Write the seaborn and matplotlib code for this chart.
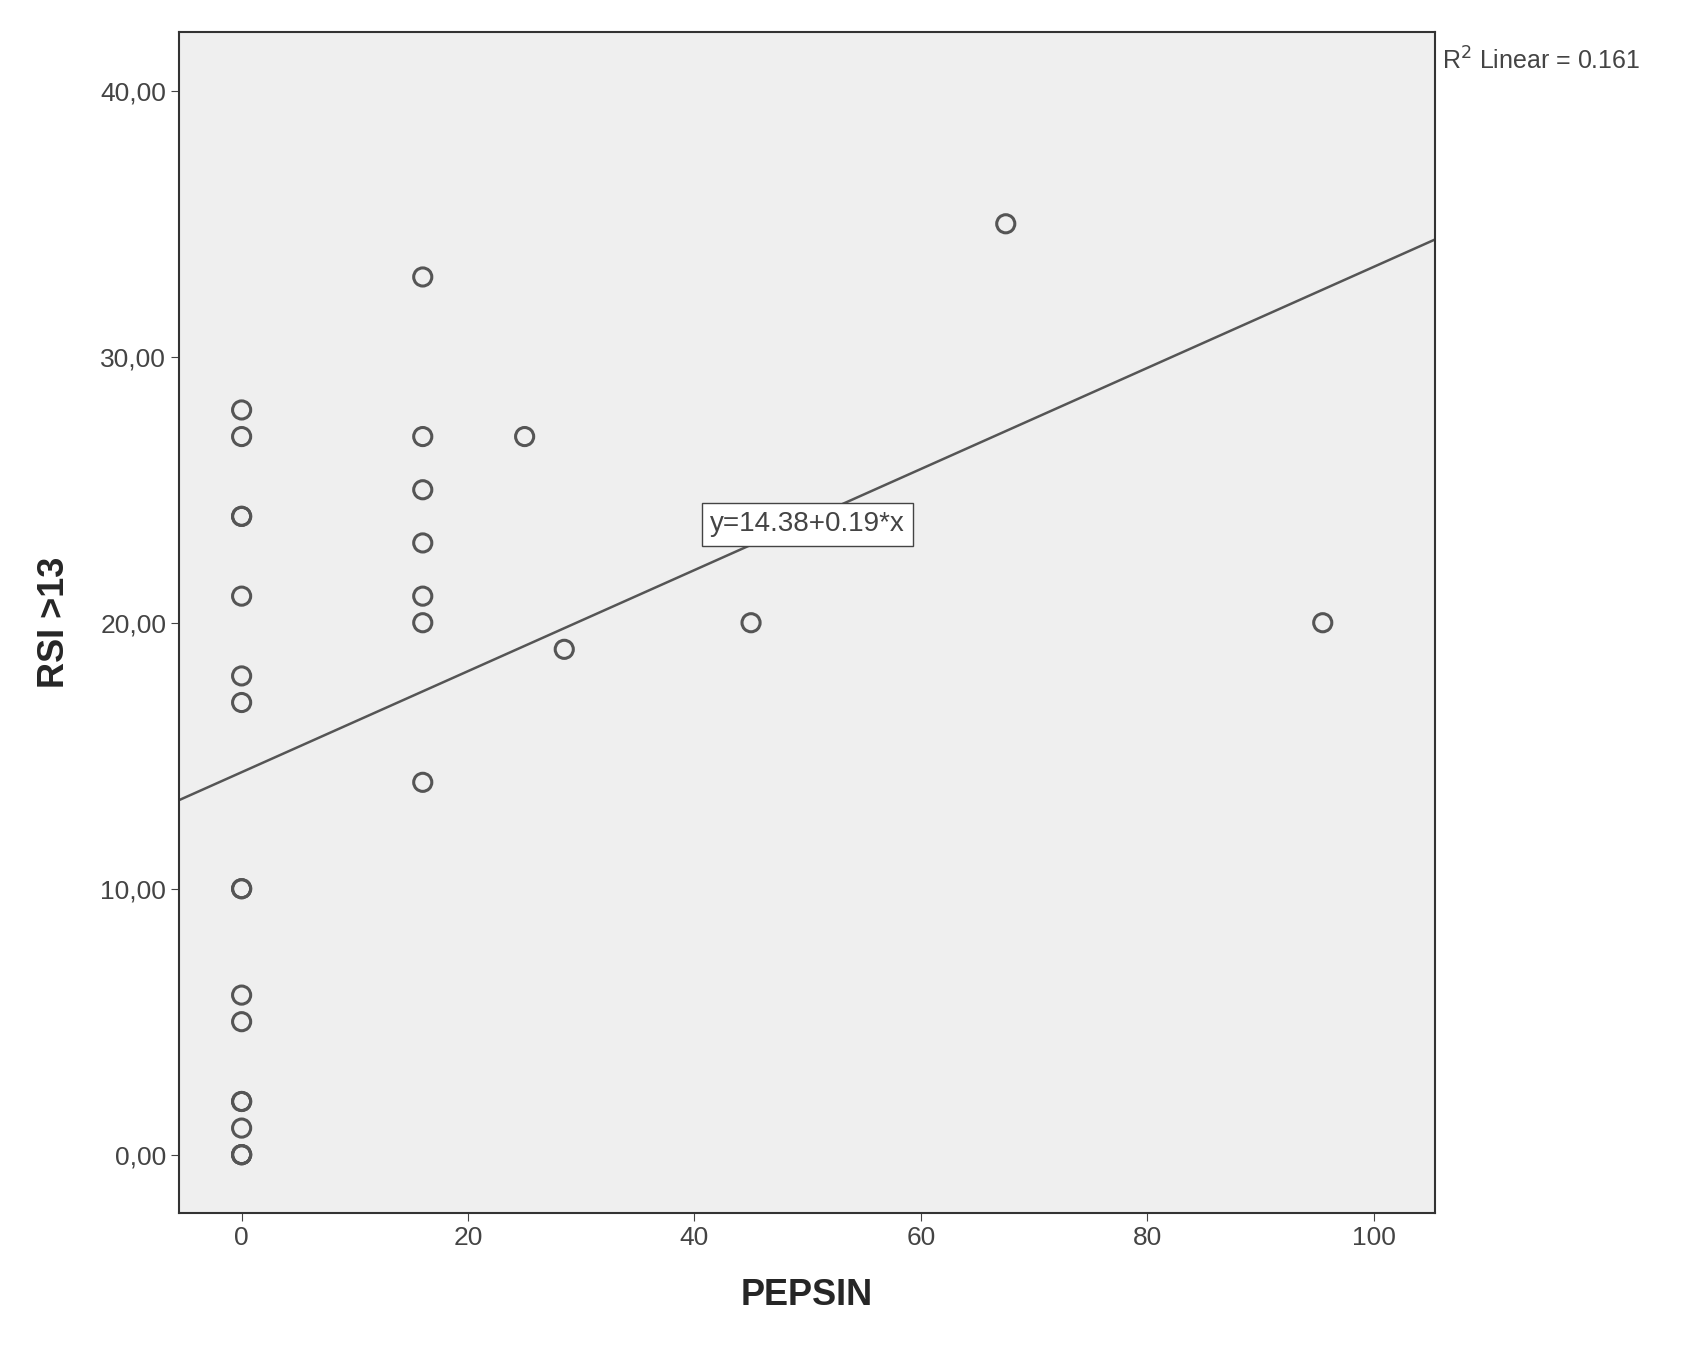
import numpy as np
import pandas as pd
import matplotlib.pyplot as plt
import seaborn as sns

# Data
pepsin = [0, 0, 0, 0, 0, 0, 0, 0, 0, 0, 0, 0, 0, 0, 0, 0, 0,
          16, 16, 16, 16, 16, 16, 16,
          25, 28.5, 45, 67.5, 95.5]
rsi = [28, 27, 24, 24, 21, 18, 17, 10, 10, 6, 5, 2, 2, 1, 0, 0, 0,
       33, 27, 25, 23, 21, 20, 14,
       27, 19, 20, 35, 20]
intercept = 14.38
slope = 0.19

df = pd.DataFrame({'PEPSIN': pepsin, 'RSI': rsi})

sns.set_style("ticks")
plt.rcParams['font.family'] = ['Liberation Sans', 'DejaVu Sans']

fig = plt.figure(figsize=(16.92, 13.45), dpi=100)
ax = fig.add_axes([0.106, 0.098, 0.742, 0.878])
ax.set_facecolor('#efefef')

sns.scatterplot(data=df, x='PEPSIN', y='RSI', ax=ax, s=170,
                facecolor='none', edgecolor='#555555', linewidth=2.2)

xs = np.array([-5.5, 105.4])
ax.plot(xs, intercept + slope * xs, color='#555555', linewidth=1.8)

ax.set_xlim(-5.5, 105.4)
ax.set_ylim(-2.2, 42.2)
ax.set_xticks([0, 20, 40, 60, 80, 100])
ax.set_yticks([0, 10, 20, 30, 40])
ax.set_yticklabels(['0,00', '10,00', '20,00', '30,00', '40,00'])
ax.tick_params(labelsize=19, colors='#444444', length=6)
for s in ax.spines.values():
    s.set_color('#333333')
    s.set_linewidth(1.5)

ax.set_xlabel('PEPSIN', fontsize=26, fontweight='bold', labelpad=20)
ax.set_ylabel('RSI >13', fontsize=26, fontweight='bold', labelpad=20)

ax.text(50, 23.7, 'y=14.38+0.19*x', fontsize=20, color='#444444',
        ha='center', va='center',
        bbox=dict(boxstyle='square,pad=0.3', facecolor='white', edgecolor='#444444'))
fig.text(0.852, 0.955, r'R$^2$ Linear = 0.161', fontsize=18, color='#444444',
         ha='left', va='center')

plt.savefig('out.png', dpi=100)
plt.close()
